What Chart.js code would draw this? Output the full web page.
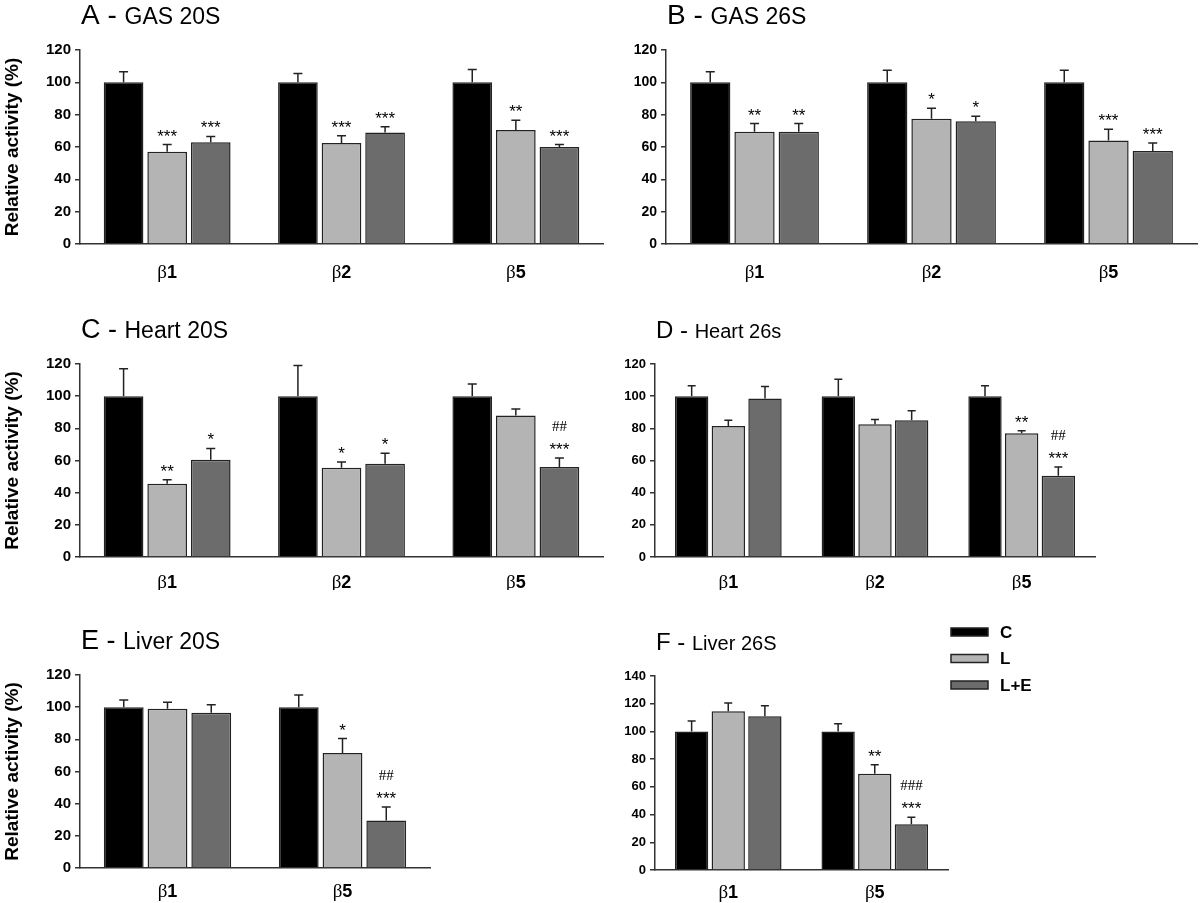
<!DOCTYPE html>
<html>
<head>
<meta charset="utf-8">
<script src="https://cdn.jsdelivr.net/npm/chart.js@4.4.1/dist/chart.umd.min.js"></script>
<style>
  body { margin: 0; background: #fff; width: 1200px; height: 903px; position: relative; overflow: hidden; }
  .panel { position: absolute; }
</style>
</head>
<body>
<div class="panel" id="wA" style="left:0;top:0;width:605px;height:290px"><canvas id="pA"></canvas></div>
<div class="panel" id="wB" style="left:605px;top:0;width:595px;height:290px"><canvas id="pB"></canvas></div>
<div class="panel" id="wC" style="left:0;top:290px;width:605px;height:300px"><canvas id="pC"></canvas></div>
<div class="panel" id="wD" style="left:605px;top:290px;width:595px;height:300px"><canvas id="pD"></canvas></div>
<div class="panel" id="wE" style="left:0;top:590px;width:605px;height:313px"><canvas id="pE"></canvas></div>
<div class="panel" id="wF" style="left:605px;top:590px;width:595px;height:313px"><canvas id="pF"></canvas></div>
<script>
// groups / categories
var groupNames = ['C', 'L', 'L+E'];
var subunits3 = ['β1', 'β2', 'β5'];
var subunits2 = ['β1', 'β5'];

// A - GAS 20S
var gas20C = [100, 100, 100],   gas20Cerr = [6.5, 5.5, 8];
var gas20L = [57, 62.5, 70.5],  gas20Lerr = [4.5, 4.5, 6];
var gas20LE = [63, 69, 60],     gas20LEerr = [3.5, 3.5, 1.5];
var gas20Lsig = ['***', '***', '**'], gas20LEsig = ['***', '***', '***'];

// B - GAS 26S
var gas26C = [100, 100, 100],   gas26Cerr = [6.5, 7.5, 7.5];
var gas26L = [69.5, 77.5, 64],  gas26Lerr = [5, 6.5, 7];
var gas26LE = [69.5, 76, 57.5], gas26LEerr = [5, 3, 5];
var gas26Lsig = ['**', '*', '***'], gas26LEsig = ['**', '*', '***'];

// C - Heart 20S
var heart20C = [100, 100, 100],   heart20Cerr = [17, 19, 7.5];
var heart20L = [45.5, 55.5, 88],  heart20Lerr = [2.5, 3.5, 4];
var heart20LE = [60.5, 58, 56],   heart20LEerr = [7, 6.5, 5.5];
var heart20Lsig = ['**', '*', ''], heart20LEsig = ['*', '*', '***'];
var heart20LEhash = ['', '', '##'];

// D - Heart 26s
var heart26C = [100, 100, 100],    heart26Cerr = [6.5, 10.5, 6.5];
var heart26L = [81.5, 82.5, 77],   heart26Lerr = [3.5, 3, 1.5];
var heart26LE = [98.5, 85, 50.5],  heart26LEerr = [7.5, 6, 5.5];
var heart26Lsig = ['', '', '**'], heart26LEsig = ['', '', '***'];
var heart26LEhash = ['', '', '##'];

// E - Liver 20S
var liver20C = [100, 100],    liver20Cerr = [4.5, 7.5];
var liver20L = [99, 71.5],    liver20Lerr = [4, 9];
var liver20LE = [96.5, 29.5], liver20LEerr = [5, 8.5];
var liver20Lsig = ['', '*'], liver20LEsig = ['', '***'];
var liver20LEhash = ['', '##'];

// F - Liver 26S
var liver26C = [100, 100],    liver26Cerr = [7.5, 5.5];
var liver26L = [114.5, 69.5], liver26Lerr = [6, 6.5];
var liver26LE = [111, 33],    liver26LEerr = [7.5, 5];
var liver26Lsig = ['', '**'], liver26LEsig = ['', '***'];
var liver26LEhash = ['', '###'];

var panelLetters = ['A', 'B', 'C', 'D', 'E', 'F'];
var panelNames = ['GAS 20S', 'GAS 26S', 'Heart 20S', 'Heart 26s', 'Liver 20S', 'Liver 26S'];

var FONT = '"Liberation Sans", Arial, sans-serif';
var SERIF = '"Liberation Serif", "Times New Roman", serif';
var fills = ['#000000', '#b4b4b4', '#6c6c6c'];

function sets(c, cErr, l, lErr, le, leErr, lSig, leSig, leHash) {
  return [
    { label: groupNames[0], data: c, err: cErr, sig: [], hash: [] },
    { label: groupNames[1], data: l, err: lErr, sig: lSig, hash: [] },
    { label: groupNames[2], data: le, err: leErr, sig: leSig, hash: leHash || [] }
  ].map(function (d, i) {
    d.backgroundColor = fills[i];
    d.borderColor = '#222';
    d.borderWidth = 1.5;
    d.categoryPercentage = 0.75;
    d.barPercentage = 0.91;
    return d;
  });
}

var decor = {
  id: 'decor',
  afterDatasetsDraw: function (chart, args, o) {
    var ctx = chart.ctx, ys = chart.scales.y;
    ctx.save();
    chart.data.datasets.forEach(function (ds, i) {
      chart.getDatasetMeta(i).data.forEach(function (bar, j) {
        var top = ys.getPixelForValue(ds.data[j] + ds.err[j]);
        ctx.strokeStyle = '#222';
        ctx.lineWidth = 1.5;
        ctx.beginPath();
        ctx.moveTo(bar.x, bar.y);
        ctx.lineTo(bar.x, top);
        ctx.moveTo(bar.x - o.cap, top);
        ctx.lineTo(bar.x + o.cap, top);
        ctx.stroke();
        ctx.fillStyle = '#000';
        ctx.textAlign = 'center';
        ctx.textBaseline = 'alphabetic';
        var mid = top - 13;
        if (ds.sig[j]) {
          ctx.font = '17px ' + FONT;
          ctx.fillText(ds.sig[j], bar.x, mid + 10);
        }
        if (ds.hash[j]) {
          ctx.font = '15px ' + SERIF;
          ctx.fillText(ds.hash[j], bar.x, mid - 19 + 5);
        }
      });
    });
    ctx.restore();
  },
  afterDraw: function (chart, args, o) {
    var ctx = chart.ctx, area = chart.chartArea, xs = chart.scales.x;
    ctx.save();
    ctx.fillStyle = '#000';
    ctx.textBaseline = 'alphabetic';
    // panel title
    ctx.textAlign = 'left';
    ctx.font = o.letterSize + 'px ' + FONT;
    var head = o.letter + ' - ';
    var tx = area.left + 1, ty = area.top - 26;
    ctx.fillText(head, tx, ty);
    tx += ctx.measureText(head).width;
    ctx.font = o.nameSize + 'px ' + FONT;
    ctx.fillText(o.name, tx, ty);
    // category labels: greek letter plain, digit bold
    chart.data.labels.forEach(function (lab, i) {
      var x = xs.getPixelForValue(i);
      var g = lab.charAt(0), n = lab.slice(1);
      ctx.font = '19px ' + SERIF;
      var gw = ctx.measureText(g).width;
      ctx.font = 'bold 18px ' + FONT;
      var nw = ctx.measureText(n).width;
      var x0 = x - (gw + nw) / 2, y = area.bottom + o.labelOffset;
      ctx.font = '19px ' + SERIF;
      ctx.fillText(g, x0, y);
      ctx.font = 'bold 18px ' + FONT;
      ctx.fillText(n, x0 + gw, y);
    });
    // legend
    if (o.legend) {
      chart.data.datasets.forEach(function (ds, i) {
        var bx = area.right + 3, by = area.top - 44 + i * 26.5;
        ctx.fillStyle = ds.backgroundColor;
        ctx.strokeStyle = '#222';
        ctx.lineWidth = 1.5;
        ctx.fillRect(bx, by - 4, 37, 8);
        ctx.strokeRect(bx, by - 4, 37, 8);
        ctx.fillStyle = '#000';
        ctx.font = 'bold 17px ' + FONT;
        ctx.textBaseline = 'middle';
        ctx.fillText(ds.label, bx + 49, by + 1);
      });
    }
    ctx.restore();
  }
};

function makePanel(id, k, labels, datasets, p) {
  new Chart(document.getElementById(id), {
    type: 'bar',
    data: { labels: labels, datasets: datasets },
    plugins: [decor],
    options: {
      responsive: true,
      maintainAspectRatio: false,
      animation: false,
      layout: { padding: { top: p.top, right: p.right, bottom: p.bottom, left: 0 } },
      scales: {
        x: {
          grid: { display: false },
          border: { color: '#333', width: 1.5 },
          ticks: { display: false },
          afterFit: function (s) { s.height = 0; }
        },
        y: {
          min: 0,
          max: p.ymax,
          afterFit: function (s) { s.width = p.axisW; },
          ticks: { stepSize: 20, color: '#000', padding: 4, font: { family: FONT, size: p.tick, weight: 'bold' } },
          grid: { drawOnChartArea: false, drawTicks: true, tickLength: 5, color: '#333', lineWidth: 1.5 },
          border: { color: '#333', width: 1.5 },
          title: {
            display: p.ytitle,
            text: 'Relative activity (%)',
            color: '#000',
            padding: { top: 1, bottom: 0 },
            font: { family: FONT, size: 19, weight: 'bold' }
          }
        }
      },
      plugins: {
        legend: { display: false },
        tooltip: { enabled: false },
        decor: {
          letter: panelLetters[k], name: panelNames[k],
          letterSize: p.letterSize, nameSize: p.nameSize,
          labelOffset: p.labelOffset, cap: p.cap, legend: !!p.legend
        }
      }
    }
  });
}

makePanel('pA', 0, subunits3,
  sets(gas20C, gas20Cerr, gas20L, gas20Lerr, gas20LE, gas20LEerr, gas20Lsig, gas20LEsig),
  { top: 50, right: 2, bottom: 46, axisW: 80, ymax: 120, tick: 15, ytitle: true, letterSize: 28, nameSize: 23, labelOffset: 34, cap: 4.5 });

makePanel('pB', 1, subunits3,
  sets(gas26C, gas26Cerr, gas26L, gas26Lerr, gas26LE, gas26LEerr, gas26Lsig, gas26LEsig),
  { top: 50, right: 3, bottom: 46, axisW: 61, ymax: 120, tick: 14, ytitle: false, letterSize: 28, nameSize: 23, labelOffset: 34, cap: 4.5 });

makePanel('pC', 2, subunits3,
  sets(heart20C, heart20Cerr, heart20L, heart20Lerr, heart20LE, heart20LEerr, heart20Lsig, heart20LEsig, heart20LEhash),
  { top: 74, right: 2, bottom: 33, axisW: 80, ymax: 120, tick: 15, ytitle: true, letterSize: 27, nameSize: 23, labelOffset: 31, cap: 4.5 });

makePanel('pD', 3, subunits3,
  sets(heart26C, heart26Cerr, heart26L, heart26Lerr, heart26LE, heart26LEerr, heart26Lsig, heart26LEsig, heart26LEhash),
  { top: 74, right: 105, bottom: 33, axisW: 50, ymax: 120, tick: 13, ytitle: false, letterSize: 24, nameSize: 20, labelOffset: 31, cap: 4 });

makePanel('pE', 4, subunits2,
  sets(liver20C, liver20Cerr, liver20L, liver20Lerr, liver20LE, liver20LEerr, liver20Lsig, liver20LEsig, liver20LEhash),
  { top: 85, right: 175, bottom: 35, axisW: 80, ymax: 120, tick: 15, ytitle: true, letterSize: 27, nameSize: 23, labelOffset: 29, cap: 4.5 });

makePanel('pF', 5, subunits2,
  sets(liver26C, liver26Cerr, liver26L, liver26Lerr, liver26LE, liver26LEerr, liver26Lsig, liver26LEsig, liver26LEhash),
  { top: 86, right: 252, bottom: 33, axisW: 50, ymax: 140, tick: 13, ytitle: false, letterSize: 24, nameSize: 20, labelOffset: 28, cap: 4, legend: true });
</script>
</body>
</html>
